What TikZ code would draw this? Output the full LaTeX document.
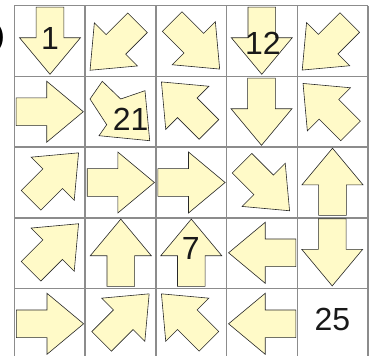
\documentclass[tikz,border=0pt]{standalone}
\usepackage{fontspec}
\setmainfont{Liberation Sans}
\definecolor{arrfill}{RGB}{255,250,200}
\definecolor{arredge}{RGB}{40,40,40}
\definecolor{gridc}{RGB}{140,140,140}
\tikzset{
  arrowshape/.style={fill=arrfill, draw=arredge, line width=0.6pt, line join=miter},
  gridline/.style={draw=gridc, line width=1.4pt},
  num/.style={inner sep=0pt, font=\fontsize{32}{32}\selectfont, text=black!90},
  blockarrow/.pic={
    \path[arrowshape] (-33.6,-13.85) -- (-3,-13.85) -- (-3,-30.5) -- (33.6,0)
      -- (-3,30.5) -- (-3,13.85) -- (-33.6,13.85) -- cycle;
  }
}
\begin{document}
\begin{tikzpicture}[x=1pt,y=-1pt]
\useasboundingbox (0,0) rectangle (370,356);
% grid
\foreach \c in {14.4,85.1,155.8,226.5,297.2,367.9} {
  \draw[gridline] (\c,5.7) -- (\c,362);
}
\foreach \r in {5.7,76.4,147.1,217.8,288.5} {
  \draw[gridline] (14.4,\r) -- (367.9,\r);
}
% row 1
\pic (a1) at (50,40.7) [rotate=-90] {blockarrow};
\pic (a2) at (113.8,46.5) [rotate=-135] {blockarrow};
\pic (a3) at (195.9,45.3) [rotate=-45] {blockarrow};
\pic (a4) at (261.8,40.7) [rotate=-90] {blockarrow};
\pic (a5) at (326,46.3) [rotate=-135] {blockarrow};
% row 2
\pic (a6) at (49.7,111.7) {blockarrow};
\path[arrowshape] (90,99) -- (102.3,81.3) -- (120.7,99) -- (145,90.7)
  -- (149.7,140.7) -- (99,135.7) -- (106.7,124.7) -- cycle;
\pic (a8) at (185.2,105.7) [rotate=135] {blockarrow};
\pic (a9) at (261.5,111.7) [rotate=-90] {blockarrow};
\pic (a10) at (326.8,107.2) [rotate=135] {blockarrow};
% row 3
\pic (a11) at (54.8,176.6) [rotate=45] {blockarrow};
\pic (a12) at (120.8,182.5) {blockarrow};
\pic (a13) at (191.5,182.5) {blockarrow};
\pic (a14) at (265.8,187) [rotate=-45] {blockarrow};
\pic (a15) at (332.5,181.8) [rotate=90] {blockarrow};
% row 4
\pic (a16) at (54.8,247.5) [rotate=45] {blockarrow};
\pic (a17) at (120.8,252.7) [rotate=90] {blockarrow};
\pic (a18) at (191.3,252.7) [rotate=90] {blockarrow};
\pic (a19) at (262.2,252.8) [rotate=180] {blockarrow};
\pic (a20) at (332.2,252.3) [rotate=-90] {blockarrow};
% row 5
\pic (a21) at (50,323.8) {blockarrow};
\pic (a22) at (125.4,317.6) [rotate=45] {blockarrow};
\pic (a23) at (185.2,317.6) [rotate=135] {blockarrow};
\pic (a24) at (262.2,323.8) [rotate=180] {blockarrow};
% numbers
\node[num] (n1) at (50,38) {1};
\node[num] (n12) at (263,43.5) {12};
\node[num] (n21) at (130.7,119.8) {21};
\node[num] (n7) at (190.7,248.7) {7};
\node[num] (n25) at (332.5,319) {25};
% cut-off label at left edge
\node[inner sep=0pt, anchor=east, font=\fontsize{26}{26}\selectfont\bfseries] (lab) at (4.5,38) {)};
\end{tikzpicture}
\end{document}
